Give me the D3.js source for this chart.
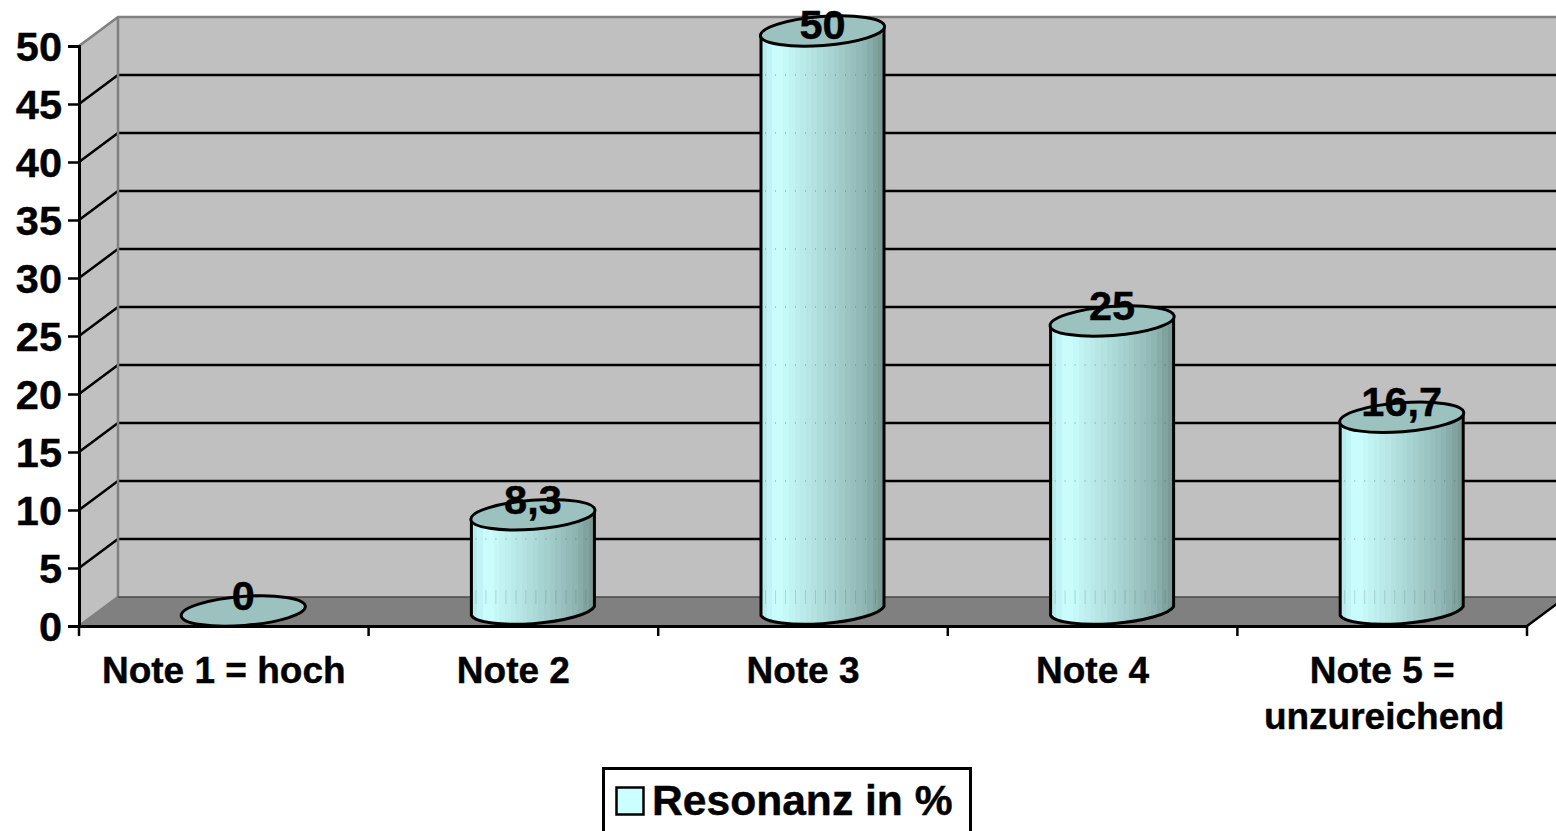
<!DOCTYPE html>
<html lang="de">
<head>
    <meta charset="UTF-8">
    <title>Resonanz in %</title>
    <script src="https://d3js.org/d3.v7.min.js"></script>
    <style>
        html, body { margin: 0; padding: 0; background: #fff; overflow: hidden; }
        svg { display: block; }
        text { font-family: "Liberation Sans", Arial, sans-serif; font-weight: bold; fill: #000; stroke: #000; stroke-width: 0.4px; }
    </style>
</head>
<body>
    <svg></svg>
    <script>
        // Data
        const categories = ["Note 1 = hoch", "Note 2", "Note 3", "Note 4", "Note 5 = unzureichend"];
        const values = [0, 8.3, 50, 25, 16.7];
        const valueLabels = ["0", "8,3", "50", "25", "16,7"];
        const yTicks = [0, 5, 10, 15, 20, 25, 30, 35, 40, 45, 50];
        const seriesName = "Resonanz in %";

        const width = 1556, height = 831;
        const plot = {left: 79, right: 1527, top: 46, bottom: 626};
        const depth = {x: 39, y: -29}; // offset of the back wall

        const svg = d3.select("svg").attr("width", width).attr("height", height);

        const x = d3.scaleBand().domain(categories).range([plot.left, plot.right]);
        const y = d3.scaleLinear().domain([0, 50]).range([plot.bottom, plot.top]);

        // Stepped gradient for the cylinders
        const shade = d3.scaleLinear()
            .domain([0, 0.13, 0.55, 0.85, 1])
            .range(["#b4e8e8", "#ccffff", "#a9d6d5", "#8eb4b2", "#76958f"]);
        const grad = svg.append("defs").append("linearGradient")
            .attr("id", "cyl").attr("x1", 0).attr("x2", 1).attr("y1", 0).attr("y2", 0);
        const steps = 22;
        d3.range(steps).forEach(i => {
            grad.append("stop").attr("offset", i / steps).attr("stop-color", shade((i + 0.5) / steps));
            grad.append("stop").attr("offset", (i + 1) / steps).attr("stop-color", shade((i + 0.5) / steps));
        });

        // Walls and floor
        const backX = plot.left + depth.x, backRight = plot.right + depth.x;
        const backY = v => y(v) + depth.y;

        svg.append("polygon")
            .attr("points", [[backX, backY(50)], [backRight, backY(50)], [backRight, backY(0)], [backX, backY(0)]].join(" "))
            .attr("fill", "#c0c0c0");
        svg.append("polygon")
            .attr("points", [[plot.left, y(50)], [backX, backY(50)], [backX, backY(0)], [plot.left, y(0)]].join(" "))
            .attr("fill", "#c0c0c0");
        svg.append("polygon")
            .attr("points", [[plot.left, y(0)], [backX, backY(0)], [backRight, backY(0)], [plot.right, y(0)]].join(" "))
            .attr("fill", "#808080");

        // Gridlines on back and side wall
        const grid = svg.append("g").attr("fill", "none").attr("stroke", "#000").attr("stroke-width", 2.5);
        yTicks.filter(v => v > 0 && v < 50).forEach(v => {
            grid.append("path").attr("d", `M${plot.left},${y(v)}L${backX},${backY(v)}L${backRight},${backY(v)}`);
        });

        // Grey wall edges
        svg.append("path")
            .attr("d", `M${plot.left},${y(0)}L${backX},${backY(0)}L${backX},${backY(50)}M${plot.left},${y(50)}L${backX},${backY(50)}L${backRight},${backY(50)}`)
            .attr("fill", "none").attr("stroke", "#808080").attr("stroke-width", 2.5);
        svg.append("path")
            .attr("d", `M${backX},${backY(0)}L${backRight},${backY(0)}`)
            .attr("fill", "none").attr("stroke", "#4a4a4a").attr("stroke-width", 1.5);

        // Right floor edge, runs off the page
        svg.append("path")
            .attr("d", `M${plot.right},${y(0)}L${backRight},${backY(0)}`)
            .attr("fill", "none").attr("stroke", "#000").attr("stroke-width", 2.5);

        // Cylinders
        const halfW = 61.5, tilt = 4.5, ra = 62.2, rb = 14.5, rot = -4.4;
        const barCx = d => x(d) + x.bandwidth() / 2 + depth.x / 2;
        const baseY = plot.bottom - 15;
        const rise = v => y(0) - y(v);

        const bars = svg.append("g").selectAll("g")
            .data(categories.map((c, i) => ({c, v: values[i], label: valueLabels[i]})))
            .enter().append("g");

        bars.filter(d => d.v > 0).append("path")
            .attr("d", d => {
                const cx = barCx(d.c), top = baseY - rise(d.v);
                return `M${cx - halfW},${top + tilt}L${cx - halfW},${baseY + tilt}` +
                    `A${ra},${rb} ${rot} 0 0 ${cx + halfW},${baseY - tilt}` +
                    `L${cx + halfW},${top - tilt}Z`;
            })
            .attr("fill", "url(#cyl)")
            .attr("stroke", "#000").attr("stroke-width", 3);

        // Gridlines and floor edge shine faintly through the seams of the bars
        bars.filter(d => d.v > 0).each(function(d) {
            const cx = barCx(d.c);
            yTicks.filter(v => v < d.v).forEach(v => {
                d3.select(this).append("line")
                    .attr("x1", cx - halfW + 4).attr("x2", cx + halfW - 2)
                    .attr("y1", backY(v)).attr("y2", backY(v))
                    .attr("stroke", "#3c5a5a").attr("stroke-opacity", v === 0 ? 0.2 : 0.4)
                    .attr("stroke-width", v === 0 ? 14 : 1.5)
                    .attr("stroke-dasharray", "1 9");
            });
        });

        bars.append("ellipse")
            .attr("rx", ra).attr("ry", rb)
            .attr("transform", d => `translate(${barCx(d.c)},${baseY - rise(d.v)}) rotate(${rot})`)
            .attr("fill", "#9cc2c0")
            .attr("stroke", "#000").attr("stroke-width", 3);

        // Axes
        const yAxis = svg.append("g")
            .attr("transform", `translate(${plot.left},0)`)
            .call(d3.axisLeft(y).tickValues(yTicks).tickSize(11).tickPadding(6).tickFormat(d3.format("d")));
        const xAxis = svg.append("g")
            .attr("transform", `translate(0,${plot.bottom})`)
            .call(d3.axisBottom(x).tickSize(0).tickFormat(""));

        [yAxis, xAxis].forEach(a => {
            a.selectAll("path").attr("stroke", "#000").attr("stroke-width", 3);
            a.selectAll("line").attr("stroke", "#000").attr("stroke-width", 2.5);
        });
        yAxis.selectAll("text").attr("font-size", 41.5).attr("dy", "0.36em");

        // Band edge ticks on the category axis
        xAxis.selectAll(".edge")
            .data(d3.range(categories.length + 1))
            .enter().append("line")
            .attr("class", "edge")
            .attr("x1", i => plot.left + i * x.bandwidth())
            .attr("x2", i => plot.left + i * x.bandwidth())
            .attr("y1", 0).attr("y2", 10)
            .attr("stroke", "#000").attr("stroke-width", 2.5);

        // Category labels, long ones wrap after the equals sign
        const catLabels = svg.append("g").attr("text-anchor", "middle").attr("font-size", 37);
        categories.forEach(c => {
            const lines = c.replace("= unzureichend", "=|unzureichend").split("|");
            lines.forEach((line, i) => {
                catLabels.append("text")
                    .attr("x", x(c) + x.bandwidth() / 2 + (i ? 2 : 0))
                    .attr("y", 682.5 + i * 46)
                    .text(line);
            });
        });

        // Value labels sit on the top of the cylinder, clamped at the plot top
        bars.append("text")
            .attr("x", d => barCx(d.c))
            .attr("y", d => Math.max(baseY - rise(d.v) - 1, 39))
            .attr("text-anchor", "middle")
            .attr("font-size", 41.5)
            .text(d => d.label);

        // Legend, cut by the bottom of the page
        const legend = svg.append("g");
        legend.append("rect")
            .attr("x", 603.5).attr("y", 768.5).attr("width", 367).attr("height", 90)
            .attr("fill", "#fff").attr("stroke", "#000").attr("stroke-width", 3);
        legend.append("rect")
            .attr("x", 616.5).attr("y", 787.5).attr("width", 27).attr("height", 27)
            .attr("fill", "#ccffff").attr("stroke", "#000").attr("stroke-width", 2.5);
        legend.append("text")
            .attr("x", 652).attr("y", 815).attr("font-size", 42.6)
            .text(seriesName);
    </script>
</body>
</html>
